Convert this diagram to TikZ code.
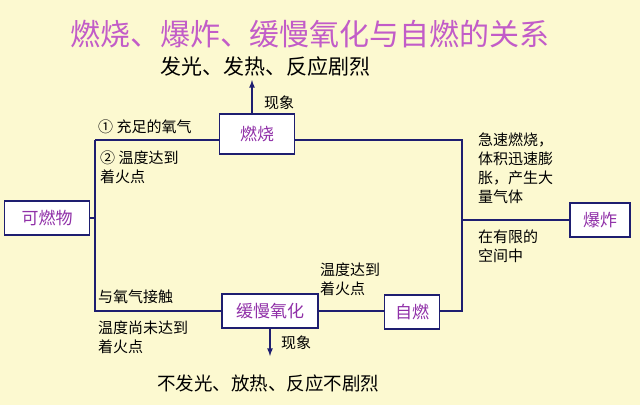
\documentclass[tikz,border=0pt]{standalone}
\usepackage{fontspec}
\setmainfont{Noto Sans CJK SC}
\usetikzlibrary{positioning,calc}
\definecolor{bgyellow}{HTML}{FCF9D0}
\definecolor{linenavy}{HTML}{1E1E70}
\definecolor{titlepurple}{HTML}{C25CC8}
\definecolor{boxpurple}{HTML}{9030A8}
\begin{document}
\begin{tikzpicture}[x=1pt,y=-1pt,
    box/.style={draw=linenavy,line width=1.2pt,fill=white,text=boxpurple,font=\fontsize{17}{20}\selectfont,minimum height=34pt,inner sep=2pt},
    conn/.style={draw=linenavy,line width=1.6pt},
    note/.style={font=\fontsize{15}{19}\selectfont,align=left,inner sep=0pt}]

    \fill[bgyellow] (0,0) rectangle (640,405);
    \useasboundingbox (0,0) rectangle (640,405);

    \node[text=titlepurple,font=\fontsize{30}{34}\selectfont] (title) at (310,34) {燃烧、爆炸、缓慢氧化与自燃的关系};

    \node[box,minimum width=75pt,minimum height=40pt] (burn) at (257,134) {燃烧};
    \node[box,minimum width=85pt] (fuel) at (47,218) {可燃物};
    \node[box,minimum width=96pt] (slow) at (270,311) {缓慢氧化};
    \node[box,minimum width=55pt] (self) at (412,312) {自燃};
    \node[box,minimum width=60pt] (boom) at (600,220) {爆炸};

    \node[font=\fontsize{21}{24}\selectfont] (top) at (265,67) {发光、发热、反应剧烈};
    \node[font=\fontsize{18.5}{22}\selectfont] (bottom) at (268,383) {不发光、放热、反应不剧烈};

    \coordinate (tl) at (95,140);
    \coordinate (bl) at (95,311);
    \coordinate (tr) at (462,140);
    \coordinate (br) at (462,311);
    \coordinate (mr) at (462,220);
    \coordinate (ml) at (95,218);

    \draw[conn] (tl) -- (burn.west |- tl);
    \draw[conn] (burn.east |- tr) -- (tr) -- (br) -- (self.east |- br);
    \draw[conn] (tl) -- (bl) -- (slow.west |- bl);
    \draw[conn] (slow.east |- bl) -- (self.west |- bl);
    \draw[conn] (fuel.east) -- (ml);
    \draw[conn] (mr) -- (boom.west);
    \draw[conn,-latex] (burn.north -| 252,0) -- (252,80);
    \draw[conn,-latex] (slow.south) -- (270,356);

    \node[note] (see1) at (279,103) {现象};
    \node[note] (see2) at (296,343) {现象};
    \node[note,anchor=west] (oxy) at (98,127) {① 充足的氧气};
    \node[note,anchor=north west] (temp) at (100,151) {② 温度达到\\着火点};
    \node[note,anchor=north west] (fast) at (478,133) {急速燃烧，\\体积迅速膨\\胀，产生大\\量气体};
    \node[note,anchor=north west] (space) at (478,230) {在有限的\\空间中};
    \node[note,anchor=west] (touch) at (98,297) {与氧气接触};
    \node[note,anchor=north west] (notyet) at (98,321) {温度尚未达到\\着火点};
    \node[note,anchor=north west] (reach) at (320,263) {温度达到\\着火点};
\end{tikzpicture}
\end{document}
